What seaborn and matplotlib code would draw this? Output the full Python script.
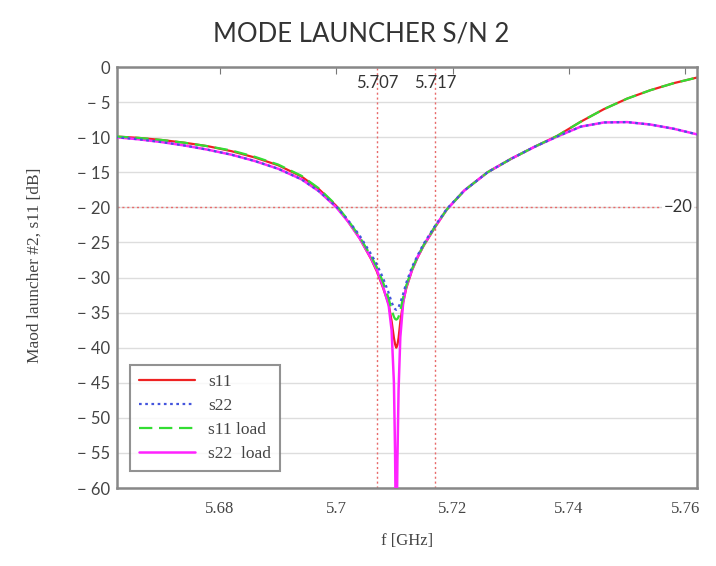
import numpy as np
import pandas as pd
import matplotlib
matplotlib.use("Agg")
import matplotlib.pyplot as plt
import seaborn as sns

# Measured return loss of mode launcher S/N 2
freq_ghz = [5.662, 5.666, 5.670, 5.674, 5.678, 5.682, 5.686, 5.690, 5.694, 5.697,
            5.700, 5.702, 5.704, 5.706, 5.707, 5.708, 5.709, 5.7095, 5.7099, 5.7101,
            5.7103, 5.7105, 5.7107, 5.711, 5.7115, 5.712, 5.713, 5.714, 5.715, 5.717,
            5.719, 5.722, 5.726, 5.730, 5.734, 5.738, 5.742, 5.746, 5.750, 5.754,
            5.758, 5.762]

s11 = [-9.9, -10.1, -10.4, -10.8, -11.3, -12.0, -12.9, -14.0, -15.6, -17.4,
       -19.8, -22.0, -24.4, -27.4, -29.2, -31.4, -33.8, -36.2, -38.6, -39.5,
       -40.0, -39.6, -38.6, -36.3, -33.5, -31.6, -29.0, -27.1, -25.5, -22.8,
       -20.3, -17.6, -15.0, -13.1, -11.4, -9.8, -7.8, -6.0, -4.5, -3.3,
       -2.3, -1.5]

s22 = [-10.0, -10.3, -10.7, -11.2, -11.8, -12.5, -13.4, -14.5, -16.0, -17.7,
       -19.9, -21.8, -24.0, -26.7, -28.2, -30.0, -32.2, -33.5, -34.3, -34.5,
       -34.6, -34.5, -34.2, -33.6, -32.3, -30.8, -28.5, -26.8, -25.2, -22.6,
       -20.2, -17.6, -15.0, -13.1, -11.4, -9.9, -8.5, -7.9, -7.85, -8.2,
       -8.8, -9.6]

s11_load = [-9.9, -10.1, -10.4, -10.8, -11.3, -11.9, -12.8, -13.9, -15.5, -17.3,
            -19.7, -21.8, -24.2, -27.0, -28.6, -30.6, -33.0, -34.6, -35.6, -35.9,
            -36.0, -35.9, -35.6, -34.7, -32.8, -31.2, -28.8, -27.0, -25.4, -22.7,
            -20.3, -17.6, -15.0, -13.1, -11.4, -9.8, -7.8, -6.0, -4.5, -3.3,
            -2.3, -1.5]

s22_load = [-10.0, -10.3, -10.7, -11.2, -11.8, -12.5, -13.4, -14.5, -16.0, -17.7,
            -20.0, -22.0, -24.4, -27.3, -29.0, -31.2, -34.0, -37.5, -45.0, -55.0,
            -72.0, -56.0, -46.0, -38.5, -33.5, -31.4, -28.9, -27.0, -25.4, -22.7,
            -20.3, -17.6, -15.0, -13.1, -11.4, -9.9, -8.5, -7.9, -7.85, -8.2,
            -8.8, -9.6]

band_edges = [5.707, 5.717]
level_db = -20
y_ticks = list(range(-60, 1, 5))
x_ticks = [5.68, 5.70, 5.72, 5.74, 5.76]
x_tick_labels = ["5.68", "5.7", "5.72", "5.74", "5.76"]

sns.set_style("white")
serif = ["Liberation Serif", "DejaVu Serif"]
sans = ["Lato", "DejaVu Sans"]
plt.rcParams["font.family"] = serif
plt.rcParams["axes.unicode_minus"] = True

df = pd.DataFrame({"f": freq_ghz, "s11": s11, "s22": s22,
                   "s11 load": s11_load, "s22  load": s22_load})

fig = plt.figure(figsize=(7.16, 5.66), dpi=100)
ax = fig.add_axes([0.1634, 0.1378, 0.8101, 0.7438])

styles = {
    "s11": dict(color="#ee2222", linestyle="-", lw=1.6, z=2),
    "s22  load": dict(color="#ff22ff", linestyle="-", lw=1.8, z=3),
    "s11 load": dict(color="#33dd33", linestyle=(0, (6, 3)), lw=1.6, z=4),
    "s22": dict(color="#4455dd", linestyle=(0, (1.2, 1.6)), lw=1.6, z=5),
}
for name, st in styles.items():
    sns.lineplot(data=df, x="f", y=name, ax=ax, color=st["color"],
                 linestyle=st["linestyle"], linewidth=st["lw"], zorder=st["z"],
                 estimator=None, sort=False, label=name)

# reference markers
ref = dict(color="#e86a6a", linestyle=(0, (1.5, 2.0)), linewidth=1.0, zorder=1.5)
for fb in band_edges:
    ax.axvline(fb, **ref)
ax.axhline(level_db, **ref)
for fb in band_edges:
    ax.text(fb, -1.2, f"{fb:.3f}", ha="center", va="top", fontsize=12,
            family=sans, color="#333333", zorder=6)
ax.text(5.7612, level_db, "\u221220", ha="right", va="center", fontsize=12,
        family=sans, color="#333333", zorder=6,
        bbox=dict(facecolor="white", edgecolor="none", pad=1.0))

ax.set_xlim(5.6623, 5.762)
ax.set_ylim(-60, 0)
ax.set_yticks(y_ticks)
ax.set_yticklabels([("\u2212 " + str(-v)) if v < 0 else "0" for v in y_ticks],
                   family=sans, fontsize=12, color="#444444")
ax.set_xticks(x_ticks)
ax.set_xticklabels(x_tick_labels, fontsize=12, color="#444444")
ax.tick_params(axis="x", direction="in", top=True, length=5, color="#777777",
               pad=9)
ax.tick_params(axis="y", direction="in", length=0, pad=5)
ax.grid(axis="y", color="#dddddd", linewidth=1.0)
ax.grid(axis="x", visible=False)
for sp in ax.spines.values():
    sp.set_color("#888888")
    sp.set_linewidth(1.8)

ax.set_xlabel("f [GHz]", fontsize=12, color="#444444", labelpad=12)
ax.set_ylabel("Maod launcher #2, s11 [dB]", fontsize=12.5, color="#444444")
ax.yaxis.set_label_coords(-0.128, 0.53)

handles, labels = ax.get_legend_handles_labels()
order = ["s11", "s22", "s11 load", "s22  load"]
hmap = dict(zip(labels, handles))
leg = ax.legend([hmap[k] for k in order], order, loc="lower left",
                bbox_to_anchor=(0.008, 0.02), fontsize=12.5, handlelength=3.2,
                frameon=True, fancybox=False, borderpad=0.5, labelspacing=0.45)
leg.get_frame().set_edgecolor("#777777")
leg.get_frame().set_linewidth(1.5)
for t in leg.get_texts():
    t.set_color("#444444")

fig.suptitle("MODE LAUNCHER S/N 2", x=0.505, y=0.962, fontsize=18.5,
             family=sans, color="#333333")

fig.savefig("out.png", dpi=100)
